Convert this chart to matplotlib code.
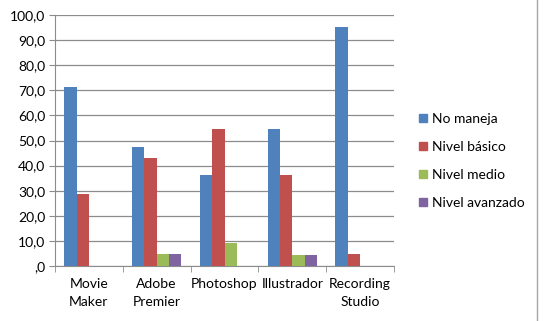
import matplotlib
matplotlib.use("Agg")
import matplotlib.pyplot as plt
import numpy as np
from matplotlib.ticker import FuncFormatter, FixedLocator
from matplotlib.lines import Line2D

categories = ["Movie\nMaker", "Adobe\nPremier", "Photoshop", "Illustrador", "Recording\nStudio"]
series_names = ["No maneja", "Nivel básico", "Nivel medio", "Nivel avanzado"]
no_maneja = [71.4, 47.6, 36.4, 54.5, 95.2]
nivel_basico = [28.6, 42.9, 54.5, 36.4, 4.8]
nivel_medio = [0.0, 4.8, 9.1, 4.5, 0.0]
nivel_avanzado = [0.0, 4.8, 0.0, 4.5, 0.0]
colors = ["#4F81BD", "#C0504D", "#9BBB59", "#8064A2"]

plt.rcParams['font.family'] = ['Lato', 'DejaVu Sans']
fs = 10

fig = plt.figure(figsize=(5.43, 3.21), dpi=100)
ax = fig.add_axes([55 / 543, 1 - 266 / 321, (394 - 55) / 543, (266 - 15) / 321])

values = [no_maneja, nivel_basico, nivel_medio, nivel_avanzado]
n = len(categories)
w = 1 / 5.5
x = np.arange(n)
for i, (vals, name, c) in enumerate(zip(values, series_names, colors)):
    ax.bar(x - 2 * w + (i + 0.5) * w, vals, width=w, color=c, label=name, zorder=3)

ax.set_xlim(-0.5, n - 0.5)
ax.set_ylim(0, 100)
ax.set_yticks(np.arange(0, 101, 10))
ax.yaxis.set_major_formatter(FuncFormatter(lambda v, p: (f"{v:.1f}".replace(".", ",") if v else ",0")))
ax.grid(axis="y", color="#8c8c8c", linewidth=0.9, zorder=0)

ax.set_xticks(x)
ax.set_xticklabels(categories, fontsize=fs, linespacing=1.6)
ax.tick_params(axis="x", length=0, pad=9)
ax.xaxis.set_minor_locator(FixedLocator(np.arange(-0.5, n, 1.0)))
ax.tick_params(axis="x", which="minor", length=4, color="#8c8c8c")
ax.tick_params(axis="y", length=4, color="#8c8c8c", labelsize=fs, pad=3)

for s in ["top", "right"]:
    ax.spines[s].set_visible(False)
for s in ["left", "bottom"]:
    ax.spines[s].set_color("#8c8c8c")

handles = [Line2D([0], [0], marker="s", linestyle="", markersize=6,
                  markerfacecolor=c, markeredgecolor=c) for c in colors]
fig.legend(handles, series_names, loc="center left", bbox_to_anchor=(404 / 543, 1 - 161 / 321),
           frameon=False, fontsize=fs, handletextpad=0.1, labelspacing=1.15, handlelength=1.0)

fig.add_artist(Line2D([537 / 543, 537 / 543], [0, 1], color="#a6a6a6", linewidth=1))

fig.savefig("out.png", dpi=100)
